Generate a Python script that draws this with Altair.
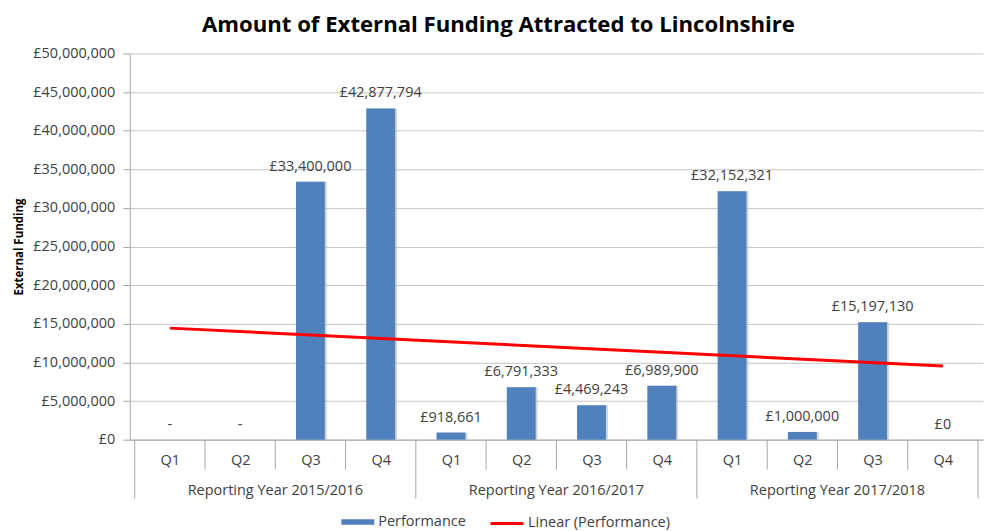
import json
import altair as alt
import pandas as pd

quarters = ["Q1", "Q2", "Q3", "Q4", "Q1", "Q2", "Q3", "Q4", "Q1", "Q2", "Q3", "Q4"]
years = ["Reporting Year 2015/2016", "Reporting Year 2016/2017", "Reporting Year 2017/2018"]
values = [0, 0, 33400000, 42877794, 918661, 6791333, 4469243, 6989900,
          32152321, 1000000, 15197130, 0]
value_labels = ["-", "-", "£33,400,000", "£42,877,794", "£918,661", "£6,791,333",
                "£4,469,243", "£6,989,900", "£32,152,321", "£1,000,000",
                "£15,197,130", "£0"]
y_ticks = [0, 5000000, 10000000, 15000000, 20000000, 25000000,
           30000000, 35000000, 40000000, 45000000, 50000000]

W, H = 855, 387
FONT = "Open Sans"
FS = 14.5
TXT = "#404040"
GRID = "#c6c6c6"
AXIS = "#a6a6a6"

df = pd.DataFrame({
    "idx": list(range(1, len(values) + 1)),
    "quarter": quarters,
    "value": values,
    "label": value_labels,
    "series": ["Performance"] * len(values),
})

n = len(values)
q_sep = pd.DataFrame({"pos": [i + 0.5 for i in range(1, n) if i % 4 != 0]})
y_sep = pd.DataFrame({"pos": [0.5 + 4 * k for k in range(len(years) + 1)]})
year_df = pd.DataFrame({"pos": [2.5 + 4 * k for k in range(len(years))], "year": years})

xscale = alt.Scale(domain=[0.5, n + 0.5], nice=False, zero=False)
yscale = alt.Scale(domain=[0, 50000000], nice=False)

x_axis = alt.Axis(
    values=list(range(1, n + 1)), tickCount=40,
    labelExpr=json.dumps(quarters) + "[datum.value - 1]",
    ticks=False, grid=False, domain=True, domainColor=AXIS,
    labelFont=FONT, labelFontSize=FS, labelColor=TXT, labelPadding=14,
    labelOverlap=False, title=None,
)
y_axis = alt.Axis(
    values=y_ticks, tickCount=40,
    labelExpr="'£' + format(datum.value, ',')",
    labelFont=FONT, labelFontSize=FS, labelColor=TXT, labelOverlap=False,
    labelPadding=8, tickColor=AXIS, tickSize=7, domainColor=AXIS,
    gridColor=GRID, gridWidth=1,
    title="External Funding", titleFont=FONT, titleFontSize=11.5,
    titleFontWeight="bold", titleColor="#000000", titlePadding=8,
)

X = alt.X("idx:Q", scale=xscale, axis=x_axis)
Y = alt.Y("value:Q", scale=yscale, axis=y_axis)
XS = alt.X("pos:Q", scale=xscale, axis=x_axis)

base = alt.Chart(df)

shadow = base.mark_bar(size=29, color="#bcbcbc", opacity=0.6, xOffset=2).encode(
    x=X, y=Y,
)

bars = base.mark_bar(size=29).encode(
    x=X, y=Y,
    fill=alt.Fill(
        "series:N",
        scale=alt.Scale(domain=["Performance"], range=["#4F81BD"]),
        legend=alt.Legend(
            title=None, orient="none", legendX=212, legendY=453,
            symbolType="M-1,-0.17H1V0.17H-1Z", symbolSize=1089,
            symbolStrokeWidth=0, labelOffset=4, padding=0,
            labelFont=FONT, labelFontSize=FS, labelColor=TXT,
        ),
    ),
)

trend = base.transform_regression(
    "idx", "value", extent=[1, n]
).transform_calculate(
    series="'Linear (Performance)'"
).mark_line(strokeWidth=3).encode(
    x=X, y=Y,
    stroke=alt.Stroke(
        "series:N",
        scale=alt.Scale(domain=["Linear (Performance)"], range=["#FF0000"]),
        legend=alt.Legend(
            title=None, orient="none", legendX=360, legendY=453,
            symbolType="stroke", symbolSize=1089, symbolStrokeWidth=3,
            labelOffset=3, padding=0,
            labelFont=FONT, labelFontSize=FS, labelColor=TXT,
        ),
    ),
)

labels = base.mark_text(
    dy=-11, baseline="alphabetic", font=FONT, fontSize=FS, color=TXT
).encode(
    x=X, y=Y,
    text="label:N",
)

q_rules = alt.Chart(q_sep).mark_rule(color=AXIS, strokeWidth=1).encode(
    x=XS,
    y=alt.value(H),
    y2=alt.value(H + 30),
)
y_rules = alt.Chart(y_sep).mark_rule(color=AXIS, strokeWidth=1).encode(
    x=XS,
    y=alt.value(H),
    y2=alt.value(H + 59),
)
year_text = alt.Chart(year_df).mark_text(
    font=FONT, fontSize=FS, color=TXT, baseline="middle"
).encode(
    x=XS,
    y=alt.value(H + 51),
    text="year:N",
)

chart = alt.layer(
    shadow, bars, trend, labels, q_rules, y_rules, year_text
).resolve_scale(
    fill="independent", stroke="independent"
).properties(
    width=W, height=H,
    title=alt.TitleParams(
        "Amount of External Funding Attracted to Lincolnshire",
        font=FONT, fontSize=22.2, fontWeight="bold", color="#000000",
        anchor="middle", frame="bounds", offset=9,
    ),
).configure_view(
    stroke=None
)

chart.save("out.html", embed_options={"renderer": "svg", "actions": False})
